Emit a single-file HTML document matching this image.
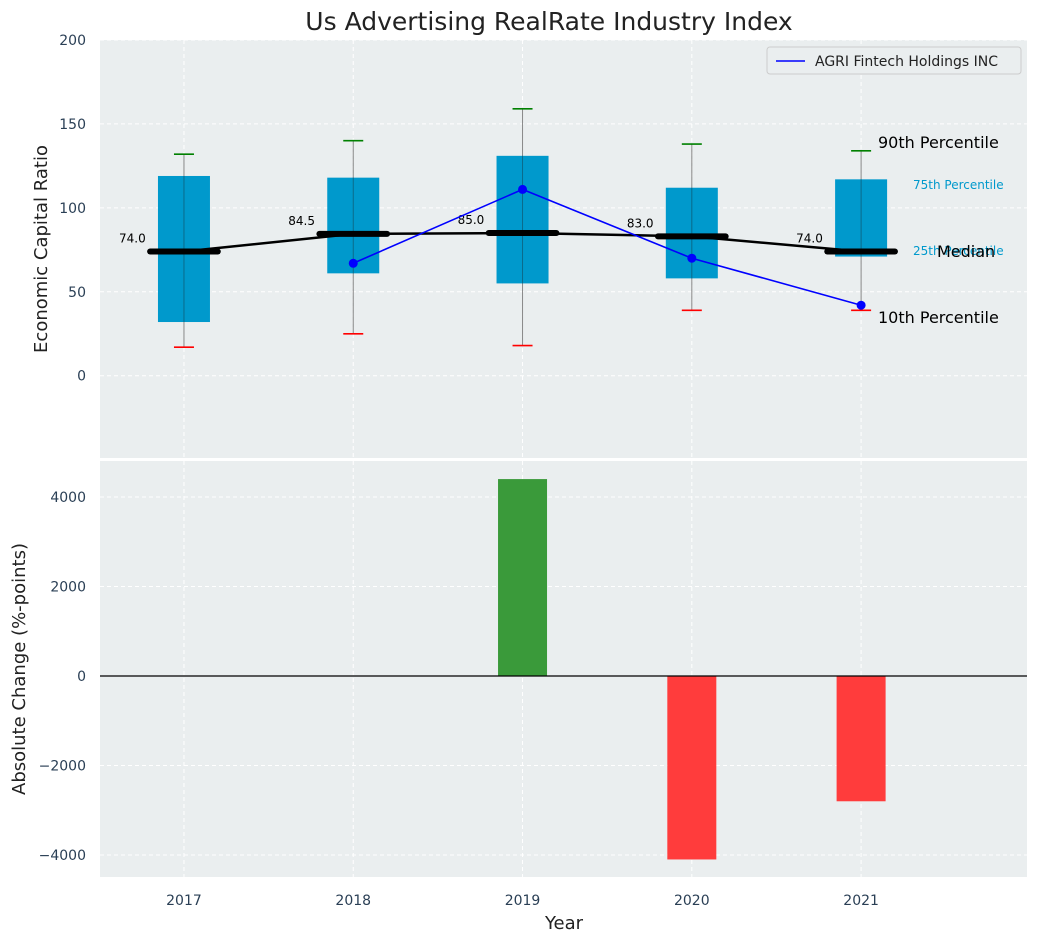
<!DOCTYPE html>
<html><head><meta charset="utf-8"><style>
body{margin:0;background:#fff;font-family:"Liberation Sans","DejaVu Sans",sans-serif}
</style></head><body>
<svg id="c" width="1039" height="942" xmlns="http://www.w3.org/2000/svg" font-family="DejaVu Sans, Liberation Sans, sans-serif"></svg>
<script>
const years=[2017,2018,2019,2020,2021];
const q1=[32,61,55,58,71];
const q3=[119,118,131,112,117];
const wLow=[17,25,18,39,39];
const wHigh=[132,140,159,138,134];
const medians=[74,84.5,85,83,74];
const companyYears=[2018,2019,2020,2021];
const companyVals=[67,111,70,42];
const changeYears=[2019,2020,2021];
const changeVals=[4400,-4100,-2800];
const topTicks=[0,50,100,150,200];
const botTicks=[-4000,-2000,0,2000,4000];

const NS="http://www.w3.org/2000/svg";
const svg=document.getElementById('c');
function el(t,a,p){const e=document.createElementNS(NS,t);for(const k in a)e.setAttribute(k,a[k]);(p||svg).appendChild(e);return e;}
const L=100,R=1027,T1=40,B1=458,T2=461,B2=877;
const x=v=>L+(v-2016.504)/(2021.98-2016.504)*(R-L);
const y1=v=>B1-(v+49)/(249)*(B1-T1);
const y2=v=>B2-(v+4492)/(4804+4492)*(B2-T2);

let t=el('text',{x:549,y:30,'font-size':25,'text-anchor':'middle',fill:'#222'});t.textContent='Us Advertising RealRate Industry Index';


let p1=el('rect',{x:L,y:T1,width:R-L,height:B1-T1,fill:'#eaeeef'});

let p2=el('rect',{x:L,y:T2,width:R-L,height:B2-T2,fill:'#eaeeef'});


years.forEach(yr=>{
 el('line',{x1:x(yr),x2:x(yr),y1:T1,y2:B1,stroke:'#fff','stroke-dasharray':'4,3'});
 el('line',{x1:x(yr),x2:x(yr),y1:T2,y2:B2,stroke:'#fff','stroke-dasharray':'4,3'});
 let tl=el('text',{x:x(yr),y:905,'font-size':14,'text-anchor':'middle',fill:'#2a3f55'});tl.textContent=yr;
 
});
topTicks.forEach(v=>{
 el('line',{x1:L,x2:R,y1:y1(v),y2:y1(v),stroke:'#fff','stroke-dasharray':'4,3'});
 let tl=el('text',{x:86,y:y1(v)+5,'font-size':14,'text-anchor':'end',fill:'#2a3f55'});tl.textContent=v;
 
});
botTicks.forEach(v=>{
 el('line',{x1:L,x2:R,y1:y2(v),y2:y2(v),stroke:'#fff','stroke-dasharray':'4,3'});
 let tl=el('text',{x:86,y:y2(v)+5,'font-size':14,'text-anchor':'end',fill:'#2a3f55'});tl.textContent=(v<0?'\u2212'+(-v):v);
 
});

const bw=26;
years.forEach((yr,i)=>{
 const cx=x(yr);
 let w=el('line',{x1:cx,x2:cx,y1:y1(wLow[i]),y2:y1(wHigh[i]),stroke:'#888','stroke-width':1});
 
 let b=el('rect',{x:cx-bw,y:y1(q3[i]),width:2*bw,height:y1(q1[i])-y1(q3[i]),fill:'#0099cc'});
 
 el('line',{x1:cx,x2:cx,y1:y1(q3[i]),y2:y1(q1[i]),stroke:'#0a6a8a','stroke-width':1});
 let h=el('line',{x1:cx-10,x2:cx+10,y1:y1(wHigh[i]),y2:y1(wHigh[i]),stroke:'green','stroke-width':1.6});
 
 let lo=el('line',{x1:cx-10,x2:cx+10,y1:y1(wLow[i]),y2:y1(wLow[i]),stroke:'red','stroke-width':1.6});
 
});
let mp=el('polyline',{points:years.map((yr,i)=>x(yr)+','+y1(medians[i])).join(' '),fill:'none',stroke:'#000','stroke-width':2.5});

years.forEach((yr,i)=>{
 let m=el('line',{x1:x(yr-0.2),x2:x(yr+0.2),y1:y1(medians[i]),y2:y1(medians[i]),stroke:'#000','stroke-width':6,'stroke-linecap':'round'});
 
 let ml=el('text',{x:x(yr-0.22)-1,y:y1(medians[i])-9,'font-size':12,'text-anchor':'end',fill:'#000'});ml.textContent=medians[i].toFixed(1);
 
});
let cl=el('polyline',{points:companyYears.map((yr,i)=>x(yr)+','+y1(companyVals[i])).join(' '),fill:'none',stroke:'blue','stroke-width':1.6});

companyYears.forEach((yr,i)=>{
 let c=el('circle',{cx:x(yr),cy:y1(companyVals[i]),r:4.5,fill:'blue'});
 
});
[['90th Percentile',878,148,16,'#000'],['75th Percentile',913,189,12,'#0099cc'],['25th Percentile',913,255,12,'#0099cc'],['Median',937,257,16,'#000'],['10th Percentile',878,323,16,'#000']].forEach(a=>{
 let e=el('text',{x:a[1],y:a[2],'font-size':a[3],fill:a[4]});e.textContent=a[0];
 
});
let lg=el('g',{});
el('rect',{x:767,y:47,width:254,height:27,fill:'#eaeeef',stroke:'#ccc',rx:3},lg);
el('line',{x1:776,x2:805,y1:61,y2:61,stroke:'blue','stroke-width':1.6},lg);
let lt=el('text',{x:815,y:66,'font-size':14,fill:'#222'},lg);lt.textContent='AGRI Fintech Holdings INC';

const bbw=24.5;
changeYears.forEach((yr,i)=>{
 const v=changeVals[i];
 let r=el('rect',{x:x(yr)-bbw,width:2*bbw,y:Math.min(y2(v),y2(0)),height:Math.abs(y2(v)-y2(0)),fill:v>=0?'#3a9a3a':'#ff3c3c'});
 
});
let zl=el('line',{x1:L,x2:R,y1:y2(0),y2:y2(0),stroke:'#000','stroke-width':1.2});


let ya=el('text',{x:0,y:0,'font-size':18,'text-anchor':'middle',fill:'#222',transform:'translate(47,249) rotate(-90)'});ya.textContent='Economic Capital Ratio';

let yb=el('text',{x:0,y:0,'font-size':18,'text-anchor':'middle',fill:'#222',transform:'translate(25,669) rotate(-90)'});yb.textContent='Absolute Change (%-points)';

let xa=el('text',{x:564,y:929,'font-size':18,'text-anchor':'middle',fill:'#222'});xa.textContent='Year';

</script>
</body></html>
